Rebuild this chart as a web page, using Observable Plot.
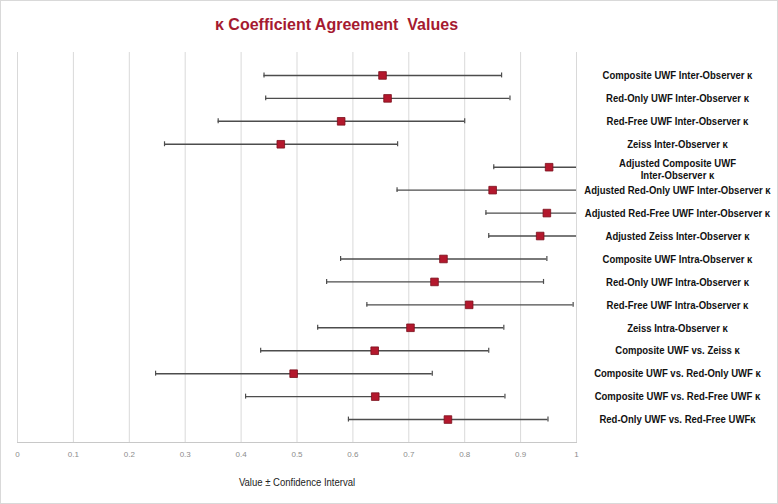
<!DOCTYPE html>
<html>
<head>
<meta charset="utf-8">
<script src="https://cdn.jsdelivr.net/npm/d3@7"></script>
<script src="https://cdn.jsdelivr.net/npm/@observablehq/plot@0.6"></script>
<style>
  html, body { margin: 0; padding: 0; background: #fff; }
  #chart { position: relative; width: 778px; height: 504px; overflow: hidden; background: #fff; }
  #border { position: absolute; left: 0; top: 0; width: 776px; height: 502px; border: 1px solid #d9d9d9; pointer-events: none; }
  #title { position: absolute; left: 0; top: 15px; width: 673px; text-align: center; white-space: pre;
    font-family: "Liberation Sans", Arial, sans-serif; font-weight: bold;
    font-size: 16px; color: #a51a30; line-height: 20px; }
  #plot { position: absolute; left: 0; top: 48px; }
</style>
</head>
<body>
<div id="chart">
  <div id="title">κ Coefficient Agreement  Values</div>
  <div id="plot"></div>
  <div id="border"></div>
</div>
<script>
const labels = [
  "Composite UWF Inter-Observer κ",
  "Red-Only UWF Inter-Observer κ",
  "Red-Free UWF Inter-Observer κ",
  "Zeiss Inter-Observer κ",
  "Adjusted Composite UWF\nInter-Observer κ",
  "Adjusted Red-Only UWF Inter-Observer κ",
  "Adjusted Red-Free UWF Inter-Observer κ",
  "Adjusted Zeiss Inter-Observer κ",
  "Composite UWF Intra-Observer κ",
  "Red-Only UWF Intra-Observer κ",
  "Red-Free UWF Intra-Observer κ",
  "Zeiss Intra-Observer κ",
  "Composite UWF vs. Zeiss κ",
  "Composite UWF vs. Red-Only UWF κ",
  "Composite UWF vs. Red-Free UWF κ",
  "Red-Only UWF vs. Red-Free UWFκ"
];
const values = [0.653, 0.662, 0.579, 0.471, 0.951, 0.850, 0.947, 0.935, 0.762, 0.746, 0.808, 0.703, 0.639, 0.494, 0.640, 0.770];
const lower  = [0.441, 0.444, 0.359, 0.263, 0.852, 0.679, 0.838, 0.843, 0.578, 0.553, 0.625, 0.537, 0.435, 0.247, 0.408, 0.592];
const upper  = [0.866, 0.881, 0.800, 0.680, 1.050, 1.021, 1.056, 1.027, 0.947, 0.941, 0.994, 0.870, 0.843, 0.742, 0.872, 0.949];
const xTicks = [0, 0.1, 0.2, 0.3, 0.4, 0.5, 0.6, 0.7, 0.8, 0.9, 1];
const xTitle = "Value ± Confidence Interval";

const rows = labels.map((label, i) => ({label, value: values[i], lo: lower[i], hi: upper[i]}));
const oneLine = rows.filter(d => !d.label.includes("\n"));
const twoLine = rows.filter(d => d.label.includes("\n"));

const font = '"Liberation Sans", Arial, sans-serif';
const lineColor = "#4d4d4d";
const labelStyle = {y: "label", text: "label", frameAnchor: "right", dx: 101, textAnchor: "middle",
  fontSize: 11, fontWeight: "bold", fill: "#111", lineHeight: 1.05};

const chart = Plot.plot({
  width: 778,
  height: 456,
  marginLeft: 17,
  marginRight: 202,
  marginTop: 4,
  marginBottom: 62,
  style: {fontFamily: font, background: "transparent", overflow: "visible"},
  x: {domain: [0, 1], ticks: xTicks, label: null, axis: null},
  y: {domain: labels, type: "band", paddingInner: 0, paddingOuter: 0.5, round: false, axis: null},
  marks: [
    Plot.gridX(xTicks, {stroke: "#d9d9d9", strokeOpacity: 1, strokeWidth: 1}),
    Plot.frame({anchor: "bottom", stroke: "#c8c8c8"}),
    Plot.axisX(xTicks, {tickSize: 0, tickPadding: 9, fontSize: 8, fill: "#8c8c8c", tickFormat: d => `${d}`, label: null}),
    Plot.ruleY(rows, {y: "label", x1: "lo", x2: "hi", stroke: lineColor, strokeWidth: 1.4, clip: true}),
    Plot.tickX(rows, {y: "label", x: "lo", stroke: lineColor, strokeWidth: 1.2, insetTop: 9, insetBottom: 9, clip: true}),
    Plot.tickX(rows, {y: "label", x: "hi", stroke: lineColor, strokeWidth: 1.2, insetTop: 9, insetBottom: 9, clip: true}),
    Plot.dot(rows, {y: "label", x: "value", symbol: "square", r: 4.3, fill: "#b3182d", stroke: "#7a0f1c", strokeWidth: 0.8}),
    Plot.text(oneLine, labelStyle),
    Plot.text(twoLine, {...labelStyle, dy: 2}),
    Plot.text([xTitle], {text: d => d, frameAnchor: "bottom", dy: 43, fontSize: 11, fill: "#222"})
  ]
});
document.getElementById("plot").appendChild(chart);

// Emulate the narrow (condensed) typeface of the original labels with a horizontal scale.
const condense = 0.867;
chart.querySelectorAll('g[aria-label="text"] text').forEach(t => {
  const tr = t.getAttribute("transform");
  if (tr) {
    t.setAttribute("transform", `${tr} scale(${condense},1)`);
  } else {
    const x = +(t.getAttribute("x") || 0), y = +(t.getAttribute("y") || 0);
    t.removeAttribute("x"); t.removeAttribute("y");
    t.setAttribute("transform", `translate(${x},${y}) scale(${condense},1)`);
  }
});
</script>
</body>
</html>
